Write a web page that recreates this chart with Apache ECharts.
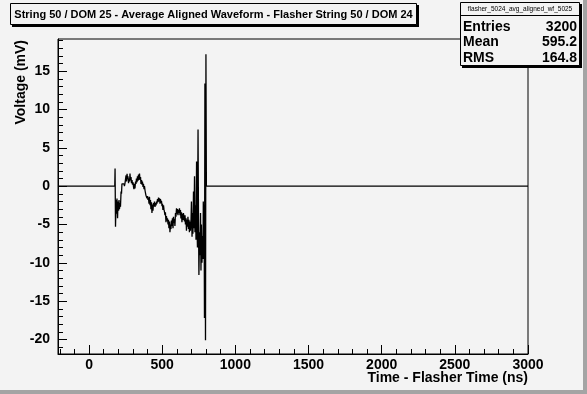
<!DOCTYPE html>
<html><head><meta charset="utf-8">
<script src="https://cdn.jsdelivr.net/npm/echarts@6/dist/echarts.min.js"></script>
<style>html,body{margin:0;padding:0;background:#f3f3f3}#c{width:587px;height:394px}</style>
</head><body><div id="c"></div>
<script>
const titleText = 'String 50 / DOM 25 - Average Aligned Waveform - Flasher String 50 / DOM 24';
const statsName = 'flasher_5024_avg_aligned_wf_5025';
const statsLabels = ['Entries', 'Mean', 'RMS'];
const statsValues = ['3200', '595.2', '164.8'];
const xTicks = [0, 500, 1000, 1500, 2000, 2500, 3000];
const yTicks = [-20, -15, -10, -5, 0, 5, 10, 15];
const xRange = [-212, 3000];
const yRange = [-21.9, 19.2];
const times = [-212,176,178,181,185,188,191,195,198,202,205,208,212,215,219,222,225,229,232,236,239,242,246,249,253,256,260,263,266,270,273,277,280,283,287,290,294,297,301,304,307,311,314,318,321,324,328,331,335,338,342,345,348,352,355,359,362,365,369,372,376,379,383,386,389,393,396,400,403,406,410,413,417,420,423,427,430,434,437,441,444,447,451,454,458,461,464,468,471,475,478,482,485,488,492,495,499,502,505,509,512,516,519,522,526,529,533,536,540,543,546,550,553,557,560,563,567,570,574,577,581,584,587,591,594,598,601,604,608,611,615,618,622,625,628,632,635,639,642,645,649,652,656,659,663,666,669,673,676,680,683,686,690,693,697,700,704,707,710,714,717,721,724,728,731,735,738,741,745,748,751,755,758,762,765,768,772,775,779,781,784,787,789,792,796,799,802,3000];
const volts = [0,0,2.3,-5.3,-1.8,-3.6,-1.6,-4.2,-2.0,-3.2,-1.8,-3.0,-2.2,-2.7,-0.7,-1.0,0.3,0.1,0.35,0.1,0.3,0.0,0.4,0.2,1.4,0.6,1.6,0.9,1.3,0.4,1.0,0.6,1.65,0.8,1.2,0.4,0.8,0.2,0.5,-0.1,-0.4,0.3,-0.3,0.6,0.3,1.0,0.5,1.3,0.7,1.5,0.8,1.65,0.9,1.2,0.3,0.8,0.2,0.6,-0.1,0.3,-0.4,0.0,-0.6,-0.7,-1.2,-1.0,-1.6,-1.3,-1.8,-1.5,-2.3,-1.4,-2.5,-1.8,-3.0,-2.1,-3.5,-2.4,-3.2,-2.2,-2.6,-2.0,-2.7,-2.2,-2.5,-2.0,-2.3,-1.7,-2.1,-1.5,-2.0,-1.6,-2.3,-1.7,-2.2,-1.9,-2.6,-2.3,-3.1,-2.5,-3.0,-3.4,-3.8,-3.4,-4.7,-3.9,-4.5,-4.2,-5.0,-4.4,-5.5,-4.6,-6.0,-5.0,-5.6,-4.5,-5.2,-4.2,-5.5,-4.0,-4.8,-4.3,-5.2,-3.5,-4.0,-2.9,-3.6,-3.0,-3.8,-3.1,-3.5,-2.9,-3.8,-3.1,-4.2,-3.4,-4.7,-3.6,-4.4,-3.5,-4.0,-4.6,-3.8,-5.0,-4.2,-5.8,-4.4,-5.3,-4.0,-5.6,-4.4,-6.0,-4.6,-5.8,-4.5,-2.0,-6.6,-3.5,-6.2,-0.7,-5.5,1.3,-6.0,-2.5,-7.0,3.2,-5.0,-8.0,7.4,-4.0,-11.6,-6.0,-9.0,-3.5,-11.0,-5.0,-10.0,-6.5,-9.5,-2.0,-7.9,-5.0,-17.2,13.4,-20.1,17.2,0,0];

const xMinor = [], yMinor = [];
for (let v = -200; v <= 3000; v += 100) xMinor.push(v);
for (let v = -21; v <= 19; v += 1) yMinor.push(v);

const FONT = '"Liberation Sans", Arial, Helvetica, sans-serif';
const BG = '#f3f3f3';
const chart = echarts.init(document.getElementById('c'), null, {renderer: 'canvas'});
const labelStyle = {color: '#000', fontFamily: FONT, fontWeight: 'bold', fontSize: 14, formatter: v => String(v)};
const statsRows = [];
statsLabels.forEach((l, i) => {
  statsRows.push({type: 'text', z: 102, style: {x: 463, y: 27 + i * 15.5, text: l, font: 'bold 14px ' + FONT, fill: '#000', textAlign: 'left', textVerticalAlign: 'middle'}});
  statsRows.push({type: 'text', z: 102, style: {x: 577, y: 27 + i * 15.5, text: statsValues[i], font: 'bold 14px ' + FONT, fill: '#000', textAlign: 'right', textVerticalAlign: 'middle'}});
});

chart.setOption({
  animation: false,
  backgroundColor: BG,
  grid: {left: 58, top: 39, right: 59, bottom: 40, show: true, borderColor: '#000', borderWidth: 1, backgroundColor: BG},
  xAxis: [
    {type: 'value', min: xRange[0], max: xRange[1], gridIndex: 0, position: 'bottom',
     axisLine: {show: true, onZero: false, lineStyle: {color: '#000', width: 1}},
     axisTick: {show: true, inside: true, length: 9, customValues: xTicks, lineStyle: {color: '#000'}},
     axisLabel: {show: true, customValues: xTicks, margin: 4, ...labelStyle},
     splitLine: {show: false}},
    {type: 'value', min: xRange[0], max: xRange[1], gridIndex: 0, position: 'bottom',
     axisLine: {show: false, onZero: false},
     axisTick: {show: true, inside: true, length: 5, customValues: xMinor, lineStyle: {color: '#000'}},
     axisLabel: {show: false}, splitLine: {show: false}}
  ],
  yAxis: [
    {type: 'value', min: yRange[0], max: yRange[1], gridIndex: 0, position: 'left',
     axisLine: {show: true, onZero: false, lineStyle: {color: '#000', width: 1}},
     axisTick: {show: true, inside: true, length: 9, customValues: yTicks, lineStyle: {color: '#000'}},
     axisLabel: {show: true, customValues: yTicks, margin: 8, ...labelStyle},
     splitLine: {show: false}},
    {type: 'value', min: yRange[0], max: yRange[1], gridIndex: 0, position: 'left',
     axisLine: {show: false, onZero: false},
     axisTick: {show: true, inside: true, length: 5, customValues: yMinor, lineStyle: {color: '#000'}},
     axisLabel: {show: false}, splitLine: {show: false}}
  ],
  series: [{
    type: 'line', xAxisIndex: 0, yAxisIndex: 0,
    data: times.map((t, i) => [t, volts[i]]),
    showSymbol: false, symbol: 'none', clip: true,
    lineStyle: {color: '#000', width: 1.3}
  }],
  graphic: [
    {type: 'rect', z: 90, silent: true, shape: {x: 583, y: 0, width: 4, height: 394}, style: {fill: '#a4a4a4'}},
    {type: 'rect', z: 90, silent: true, shape: {x: 0, y: 390, width: 587, height: 4}, style: {fill: '#a4a4a4'}},
    {type: 'rect', z: 100, shape: {x: 12, y: 5, width: 407, height: 22}, style: {fill: '#000'}},
    {type: 'rect', z: 101, shape: {x: 10.5, y: 3.5, width: 406, height: 21}, style: {fill: BG, stroke: '#000', lineWidth: 1}},
    {type: 'text', z: 102, style: {x: 213.5, y: 14.5, text: titleText, font: 'bold 11px ' + FONT, fill: '#000', textAlign: 'center', textVerticalAlign: 'middle'}},
    {type: 'rect', z: 100, shape: {x: 462, y: 4, width: 120, height: 64}, style: {fill: '#000'}},
    {type: 'rect', z: 101, shape: {x: 460.5, y: 2.5, width: 119, height: 63}, style: {fill: BG, stroke: '#000', lineWidth: 1}},
    {type: 'line', z: 102, shape: {x1: 460.5, y1: 15.5, x2: 579.5, y2: 15.5}, style: {stroke: '#000', lineWidth: 1}},
    {type: 'text', z: 102, style: {x: 520, y: 9, text: statsName, font: '6.5px ' + FONT, fill: '#000', textAlign: 'center', textVerticalAlign: 'middle'}},
    ...statsRows,
    {type: 'text', z: 102, style: {x: 528, y: 378, text: 'Time - Flasher Time (ns)', font: 'bold 14px ' + FONT, fill: '#000', textAlign: 'right', textVerticalAlign: 'middle'}},
    {type: 'text', z: 102, x: 21, y: 40, rotation: Math.PI / 2, style: {x: 0, y: 0, text: 'Voltage (mV)', font: 'bold 14px ' + FONT, fill: '#000', textAlign: 'right', textVerticalAlign: 'middle'}}
  ]
});
</script></body></html>
